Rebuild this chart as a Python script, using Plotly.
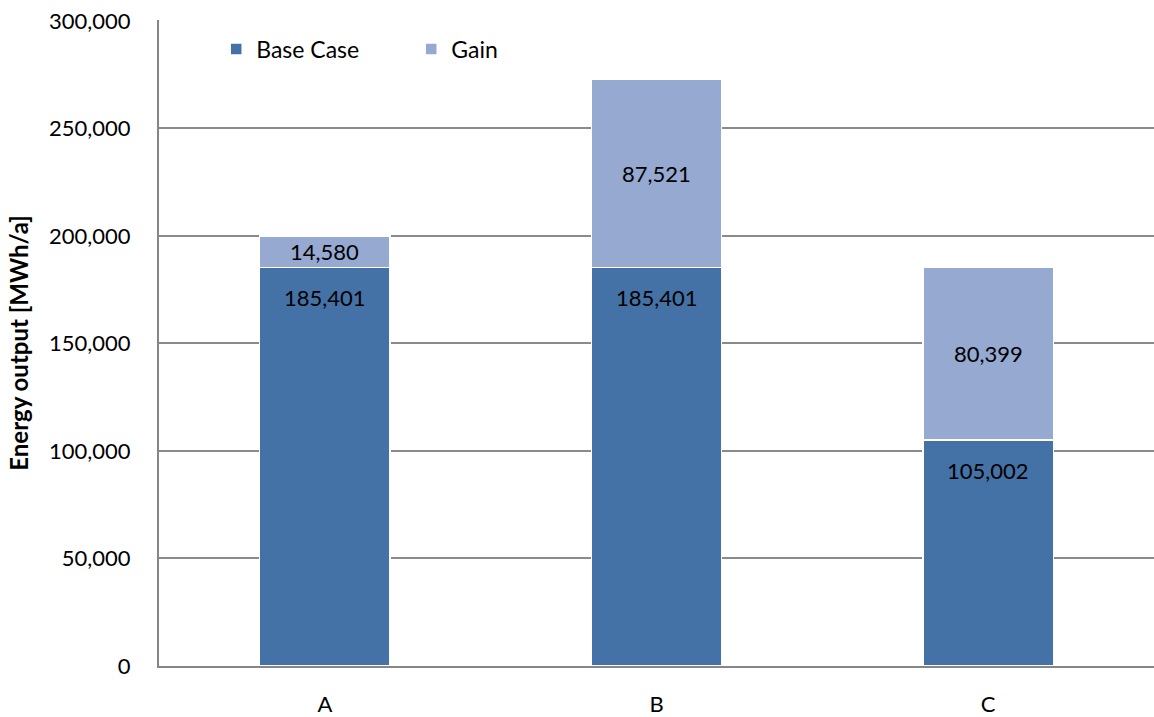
import plotly.graph_objects as go

categories = ["A", "B", "C"]
base_case = [185401, 185401, 105002]
gain = [14580, 87521, 80399]

base_color = "#4472A6"
gain_color = "#95A9D1"
font_family = "Lato, 'Open Sans', sans-serif"

fig = go.Figure()
fig.add_trace(go.Bar(
    name="Base Case", x=categories, y=base_case,
    marker=dict(color=base_color, line=dict(color="white", width=1.5)),
))
fig.add_trace(go.Bar(
    name="Gain", x=categories, y=gain,
    marker=dict(color=gain_color, line=dict(color="white", width=1.5)),
))

# value labels: base near the top of its segment, gain centred in its segment
annotations = []
for cat, b, g in zip(categories, base_case, gain):
    annotations.append(dict(x=cat, y=b, text=f"{b:,}", showarrow=False,
                            yanchor="middle", yshift=-30,
                            font=dict(size=22, color="black", family=font_family)))
    annotations.append(dict(x=cat, y=b + g / 2, text=f"{g:,}", showarrow=False,
                            yanchor="middle",
                            font=dict(size=22, color="black", family=font_family)))

fig.update_layout(
    barmode="stack",
    bargap=0.607,
    width=1154, height=717,
    margin=dict(l=159, r=0, t=20, b=48),
    paper_bgcolor="white", plot_bgcolor="white",
    font=dict(family=font_family, size=22, color="black"),
    annotations=annotations,
    legend=dict(orientation="h", traceorder="normal", x=0.0575, y=0.955,
                xanchor="left", yanchor="middle",
                font=dict(size=23), entrywidth=150, bgcolor="rgba(0,0,0,0)"),
    showlegend=True,
)
fig.update_xaxes(
    range=[-0.5, 2.5], showgrid=False, showline=True, linecolor="#868686",
    linewidth=2, ticks="", ticklabelstandoff=18,
    tickfont=dict(size=22),
)
fig.update_yaxes(
    range=[0, 300400], dtick=50000, tickformat=",", showgrid=True,
    gridcolor="#8a8a8a", gridwidth=1.5, showline=True, linecolor="#868686",
    linewidth=2, ticks="", ticklabelstandoff=22, zeroline=False,
    tickfont=dict(size=22),
    title=dict(text="<b>Energy output [MWh/a]</b>", font=dict(size=24), standoff=14),
)

fig.write_html("out.html")
